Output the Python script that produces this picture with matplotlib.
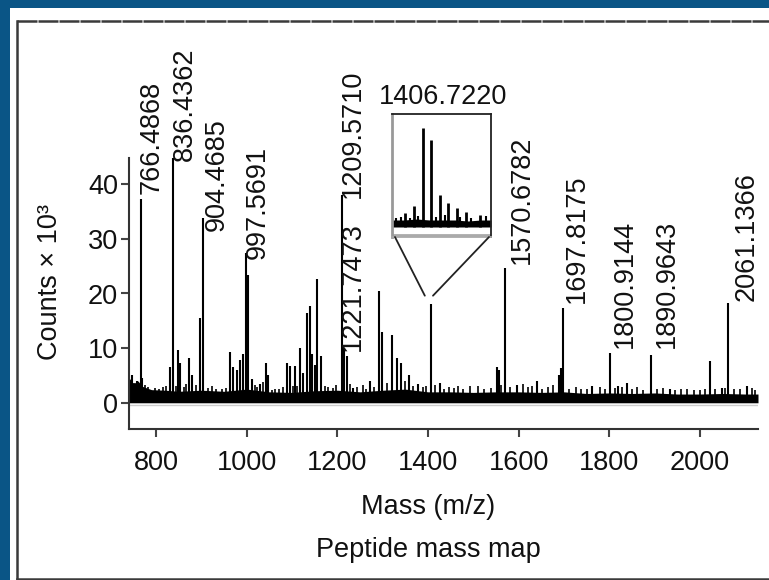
import matplotlib
matplotlib.use('Agg')
import matplotlib.pyplot as plt
from matplotlib.patches import Rectangle, ConnectionPatch
from matplotlib.lines import Line2D

plt.rcParams['font.family'] = ['Liberation Sans', 'DejaVu Sans']

# ---- data (mass m/z, counts x 10^3) ----
base_mass = [741, 750, 760, 770, 790, 820, 850, 900, 950, 1000, 1050, 1100, 1150,
             1200, 1250, 1300, 1350, 1400, 1450, 1500, 1550, 1600, 1650, 1700,
             1750, 1800, 1850, 1900, 1950, 2000, 2050, 2100, 2128]
base_height = [4.5, 3.5, 4.0, 3.0, 2.4, 2.3, 2.1, 2.3, 2.1, 2.5, 2.0, 1.9, 2.2,
               2.3, 2.0, 2.3, 2.5, 2.0, 2.0, 1.9, 2.0, 2.0, 1.9, 2.0,
               1.7, 1.8, 1.7, 1.8, 1.6, 1.6, 1.7, 1.6, 1.6]

peak_mass = [746, 757, 766.4868, 770, 830, 836.4362, 849, 854, 873, 879, 897, 904.4685,
             963, 970, 978, 985, 992, 997.5691, 1004, 1011, 1029, 1042, 1047,
             1088, 1096, 1107, 1118, 1124, 1133, 1140, 1145, 1150, 1156, 1165,
             1209.5710, 1215, 1221.7473, 1235, 1272, 1292, 1298, 1320, 1332, 1341, 1358,
             1378, 1406.7220, 1426, 1552, 1556, 1570.6782, 1596, 1640, 1690, 1693,
             1697.8175, 1761, 1800.9144, 1819, 1838, 1890.9643, 1934, 2022, 2048,
             2061.1366, 2103]
peak_height = [5.1, 4.0, 37.3, 4.5, 6.5, 44.8, 9.6, 7.3, 8.2, 5.0, 15.6, 33.8,
               9.3, 6.5, 6.0, 7.8, 9.0, 27.4, 23.4, 4.3, 3.5, 7.3, 5.0,
               7.3, 6.7, 6.7, 10.0, 5.5, 16.4, 17.8, 9.0, 7.0, 22.6, 8.5,
               38.0, 10.0, 8.5, 2.7, 4.0, 20.4, 13.0, 12.4, 8.2, 7.3, 5.1,
               3.4, 18.0, 3.7, 6.6, 6.0, 24.7, 3.3, 4.0, 5.0, 6.3,
               17.4, 3.0, 9.1, 3.0, 3.6, 8.8, 2.6, 7.7, 2.7,
               18.3, 3.0]

noise_mass = [752, 775, 783, 797, 806, 815, 822, 843, 861, 866, 888, 915, 924, 933,
              945, 955, 1018, 1023, 1035, 1056, 1063, 1072, 1080, 1102, 1112, 1172,
              1180, 1190, 1196, 1228, 1244, 1256, 1263, 1281, 1310, 1350, 1367, 1388,
              1395, 1416, 1436, 1447, 1458, 1466, 1478, 1493, 1510, 1524, 1538, 1562,
              1582, 1610, 1620, 1630, 1652, 1664, 1676, 1712, 1726, 1738, 1750, 1779,
              1790, 1812, 1828, 1850, 1862, 1874, 1905, 1918, 1946, 1958, 1972, 1986,
              2000, 2012, 2034, 2056, 2075, 2088, 2115, 2122]
noise_height = [3.6, 3.2, 2.9, 2.7, 2.6, 2.8, 3.0, 3.1, 2.9, 3.4, 3.2, 2.7, 3.0, 2.6,
                2.5, 2.7, 3.2, 2.9, 3.8, 2.4, 2.6, 2.5, 2.8, 3.1, 3.0, 3.0,
                2.8, 2.7, 3.2, 3.4, 2.9, 3.3, 2.6, 2.9, 3.6, 4.0, 3.0, 2.8,
                3.1, 3.2, 2.6, 2.9, 2.7, 3.0, 2.6, 3.1, 3.0, 2.5, 2.7, 3.2,
                2.8, 3.4, 2.9, 3.0, 2.6, 2.8, 3.2, 2.6, 2.9, 2.5, 2.6, 2.8,
                2.5, 2.7, 2.9, 2.5, 2.8, 2.4, 2.6, 2.7, 2.4, 2.6, 2.5, 2.4,
                2.4, 2.6, 2.5, 2.7, 2.6, 2.5, 2.7, 2.4]

label_text = ['766.4868', '836.4362', '904.4685', '997.5691', '1209.5710', '1221.7473',
              '1570.6782', '1697.8175', '1800.9144', '1890.9643', '2061.1366']
label_x = [791, 864, 935, 1025, 1235, 1234, 1607, 1729, 1835, 1927, 2104]
label_y = [38.3, 44.2, 31.4, 26.3, 37.5, 9.5, 25.4, 18.3, 10.0, 10.0, 18.6]

# isotope cluster shown in the zoom box (arbitrary units)
inset_mass = [1404.6, 1405.7, 1406.72, 1407.72, 1408.72, 1409.72, 1410.72, 1411.72, 1413.4]
inset_height = [14, 21, 99, 87, 32, 24, 19, 15, 12]
inset_base_mass = [1403.1, 1404.5, 1406.0, 1407.5, 1409.0, 1410.5, 1412.0, 1413.5, 1414.7]
inset_base_height = [7, 7, 8, 7, 7, 7, 6, 7, 7]
inset_noise_mass = [1403.6, 1404.2, 1405.2, 1406.2, 1408.2, 1409.3, 1411.1, 1412.4, 1414.1]
inset_noise_height = [9, 10, 9, 11, 10, 12, 10, 9, 11]

# ---- figure ----
fig = plt.figure(figsize=(7.69, 5.80), dpi=100)
fig.patch.set_facecolor('#0a5586')
fig.patches.append(Rectangle((10/769, 0), 1, 1 - 8/580, transform=fig.transFigure,
                             facecolor='white', edgecolor='none', zorder=-10))
brd = '#3a3a3a'
fig.add_artist(Line2D([17/769, 1], [1 - 21/580, 1 - 21/580], color=brd, lw=1.8,
                      dashes=(8, 0.4)))
fig.add_artist(Line2D([17/769, 17/769], [0, 1 - 21/580], color=brd, lw=1.8))
fig.add_artist(Line2D([17/769, 1], [1.5/580, 1.5/580], color=brd, lw=1.8))

ax = fig.add_axes([129/769, 151/580, 629/769, 271/580])
ax.set_facecolor('none')

ax.fill_between(base_mass, 0, base_height, color='black', lw=0)
ax.vlines(noise_mass, 0, noise_height, color='black', lw=1.2)
ax.vlines(peak_mass, 0, peak_height, color='black', lw=1.5)
ax.axhline(-0.4, color='#cccccc', lw=1)

ax.set_xlim(740.4, 2128)
ax.set_ylim(-4.8, 44.8)
ax.set_xticks([800, 1000, 1200, 1400, 1600, 1800, 2000])
ax.set_yticks([0, 10, 20, 30, 40])
for s in ['top', 'right']:
    ax.spines[s].set_visible(False)
for s in ['left', 'bottom']:
    ax.spines[s].set_color('#333333')
    ax.spines[s].set_linewidth(1.5)
ax.tick_params(axis='both', direction='out', length=6, width=1.5, color='#444444',
               labelsize=19.5, labelcolor='#111111')
ax.tick_params(axis='x', pad=9)
ax.tick_params(axis='y', pad=2)

for t, x, y in zip(label_text, label_x, label_y):
    ax.text(x, y, t, rotation=90, ha='center', va='bottom', fontsize=19.5,
            color='#111111')
ax.text(1433, 55.9, '1406.7220', ha='center', va='center', fontsize=19.5,
        color='#111111', clip_on=False)

fig.text(50/769, 1 - 282/580, 'Counts × 10³', rotation=90, ha='center', va='center',
         fontsize=19.5, color='#111111')
fig.text(428/769, 1 - 507/580, 'Mass (m/z)', ha='center', va='center',
         fontsize=19.5, color='#111111')
fig.text(428/769, 1 - 550/580, 'Peptide mass map', ha='center', va='center',
         fontsize=19.5, color='#111111')

# zoom box on the 1406 peak
ins = fig.add_axes([392/769, 343/580, 99/769, 123/580])
ins.set_facecolor('white')
ins.fill_between(inset_base_mass, 0, inset_base_height, color='black', lw=0)
ins.vlines(inset_noise_mass, 0, inset_noise_height, color='black', lw=1.5)
ins.vlines(inset_mass, 0, inset_height, color='black', lw=2)
ins.axhline(-8, color='#aaaaaa', lw=2)
ins.set_xlim(1403.1, 1414.7)
ins.set_ylim(-10, 113)
ins.set_xticks([])
ins.set_yticks([])
for s in ins.spines.values():
    s.set_color('#222222')
    s.set_linewidth(1.3)
ins.spines['left'].set_color('#999999')
ins.spines['left'].set_linewidth(2)
ins.spines['bottom'].set_color('#aaaaaa')

for xa, xb in [(0.03, 1393), (0.98, 1411)]:
    con = ConnectionPatch(xyA=(xa, 0), coordsA=ins.transAxes, xyB=(xb, 19.6),
                          coordsB=ax.transData, color='#222222', lw=1.3)
    fig.add_artist(con)

fig.savefig('out.png', dpi=100, facecolor=fig.get_facecolor())
